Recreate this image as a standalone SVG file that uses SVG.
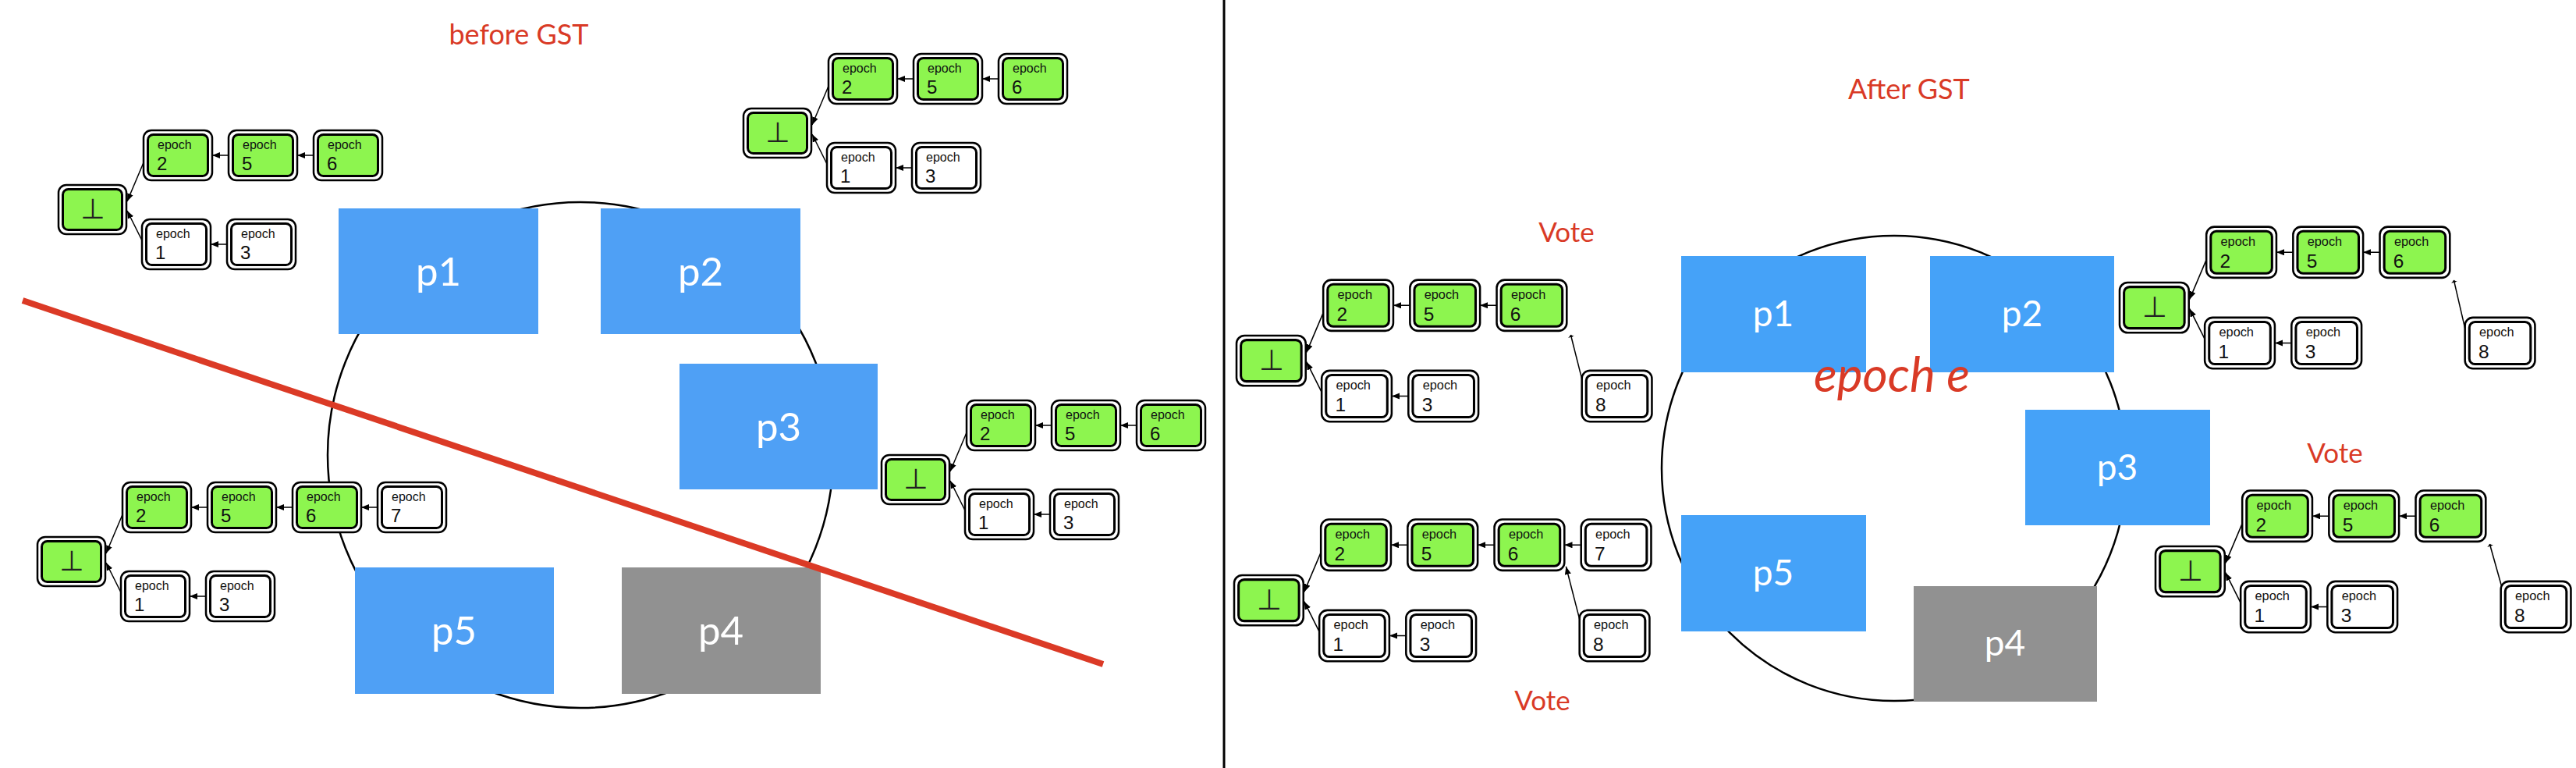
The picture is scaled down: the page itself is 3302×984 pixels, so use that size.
<svg xmlns="http://www.w3.org/2000/svg" width="3302" height="984" viewBox="0 0 3302 984">
<style>
.bg{fill:#fff}
.ring{fill:none;stroke:#000;stroke-width:2.5}
.pb{fill:#4fa0f5}
.pbr{fill:#45a2f8}
.pg{fill:#919191}
.pl{font-family:Lato,"Open Sans",sans-serif;fill:#fff;text-anchor:middle}
.red{font-family:Lato,"Open Sans",sans-serif;fill:#d93a26;text-anchor:middle}
.fo{fill:#fff;stroke:#000;stroke-width:2.5}
.fig{fill:#8df54f;stroke:#000;stroke-width:3}
.fiw{fill:#fff;stroke:#000;stroke-width:3}
.t1{font-family:"Liberation Sans",Arial,sans-serif;font-size:16px;fill:#111}
.t2{font-family:"Liberation Sans",Arial,sans-serif;font-size:24px;fill:#111}
.bot{font-family:"DejaVu Sans",sans-serif;font-size:36px;fill:#222;text-anchor:middle}
.cn{fill:none;stroke:#000;stroke-width:1.5}
.ah{marker-end:url(#arr)}
.at{marker-end:url(#tee)}
</style>
<defs>
<marker id="arr" markerUnits="userSpaceOnUse" markerWidth="10" markerHeight="8" refX="10" refY="4" orient="auto"><path d="M0,0 L10,4 L0,8 z" fill="#000"/></marker>
<marker id="tee" markerUnits="userSpaceOnUse" markerWidth="3" markerHeight="8" refX="3" refY="4" orient="auto"><path d="M0,0 L3,4 L0,8 z" fill="#000"/></marker>
<g id="fg"><rect class="fo" x="0" y="0" width="88" height="64" rx="10"/><rect class="fig" x="5.5" y="5.5" width="77" height="53" rx="7"/></g>
<g id="fw"><rect class="fo" x="0" y="0" width="88" height="64" rx="10"/><rect class="fiw" x="5.5" y="5.5" width="77" height="53" rx="7"/></g>
<g id="fb"><rect class="fo" x="0" y="0" width="87" height="63" rx="10"/><rect class="fig" x="5.5" y="5.5" width="76" height="52" rx="7"/></g>
</defs>
<rect class="bg" x="0" y="0" width="3302" height="984"/>

<!-- divider -->
<line x1="1569" y1="0" x2="1569" y2="984" stroke="#000" stroke-width="3"/>

<!-- titles -->
<text class="red" x="665" y="57" font-size="36">before GST</text>
<text class="red" x="2447" y="127" font-size="36">After GST</text>
<text class="red" x="2008" y="310" font-size="35">Vote</text>
<text class="red" x="2993" y="593" font-size="35">Vote</text>
<text class="red" x="1977" y="910" font-size="35">Vote</text>

<!-- circles -->
<circle class="ring" cx="744" cy="583" r="324"/>
<circle class="ring" cx="2428" cy="600" r="298"/>

<!-- process boxes left -->
<g id="L-p1"><rect class="pb" x="434" y="267" width="256" height="161"/><text class="pl" x="562" y="366" font-size="51">p1</text></g>
<g id="L-p2"><rect class="pb" x="770" y="267" width="256" height="161"/><text class="pl" x="898" y="366" font-size="51">p2</text></g>
<g id="L-p3"><rect class="pb" x="871" y="466" width="254" height="161"/><text class="pl" x="998" y="565" font-size="51">p3</text></g>
<g id="L-p5"><rect class="pb" x="455" y="727" width="255" height="162"/><text class="pl" x="582" y="826" font-size="51">p5</text></g>
<g id="L-p4"><rect class="pg" x="797" y="727" width="255" height="162"/><text class="pl" x="924" y="826" font-size="51">p4</text></g>

<!-- process boxes right -->
<g id="R-p1"><rect class="pbr" x="2155" y="328" width="237" height="149"/><text class="pl" x="2273" y="418" font-size="46">p1</text></g>
<g id="R-p2"><rect class="pbr" x="2474" y="328" width="236" height="149"/><text class="pl" x="2592" y="418" font-size="46">p2</text></g>
<g id="R-p3"><rect class="pbr" x="2596" y="525" width="237" height="148"/><text class="pl" x="2714" y="615" font-size="46">p3</text></g>
<g id="R-p5"><rect class="pbr" x="2155" y="660" width="237" height="149"/><text class="pl" x="2273" y="750" font-size="46">p5</text></g>
<g id="R-p4"><rect class="pg" x="2453" y="751" width="235" height="148"/><text class="pl" x="2570" y="840" font-size="46">p4</text></g>

<text id="epoch-e" class="red" x="2425" y="502" font-size="62" font-style="italic">epoch e</text>

<!-- connectors -->
<g id="connectors">
 <g transform="translate(75,237)">
  <path class="cn ah" d="M218,-38 L197,-38"/><path class="cn ah" d="M327,-38 L306,-38"/>
  <path class="cn ah" d="M216,76 L195,76"/><path class="cn ah" d="M110,-31 L88,21"/><path class="cn ah" d="M108,73 L88,33"/>
 </g>
 <g transform="translate(953,139)">
  <path class="cn ah" d="M218,-38 L197,-38"/><path class="cn ah" d="M327,-38 L306,-38"/>
  <path class="cn ah" d="M216,76 L195,76"/><path class="cn ah" d="M110,-31 L88,21"/><path class="cn ah" d="M108,73 L88,33"/>
 </g>
 <g transform="translate(1130,583)">
  <path class="cn ah" d="M218,-38 L197,-38"/><path class="cn ah" d="M327,-38 L306,-38"/>
  <path class="cn ah" d="M216,76 L195,76"/><path class="cn ah" d="M110,-31 L88,21"/><path class="cn ah" d="M108,73 L88,33"/>
 </g>
 <g transform="translate(48,688)">
  <path class="cn ah" d="M218,-38 L197,-38"/><path class="cn ah" d="M327,-38 L306,-38"/><path class="cn ah" d="M436,-38 L415,-38"/>
  <path class="cn ah" d="M216,76 L195,76"/><path class="cn ah" d="M110,-31 L88,21"/><path class="cn ah" d="M108,73 L88,33"/>
 </g>
 <g transform="translate(2717,362) scale(1.02)">
  <path class="cn ah" d="M218,-38 L197,-38"/><path class="cn ah" d="M327,-38 L306,-38"/>
  <path class="cn ah" d="M216,76 L195,76"/><path class="cn ah" d="M110,-31 L88,21"/><path class="cn ah" d="M108,73 L88,33"/>
  <path class="cn at" d="M436,66 L420,-3"/>
 </g>
 <g transform="translate(2763,700) scale(1.02)">
  <path class="cn ah" d="M218,-38 L197,-38"/><path class="cn ah" d="M327,-38 L306,-38"/>
  <path class="cn ah" d="M216,76 L195,76"/><path class="cn ah" d="M110,-31 L88,21"/><path class="cn ah" d="M108,73 L88,33"/>
  <path class="cn at" d="M436,54 L420,-3"/>
 </g>
 <g transform="translate(1585,430) scale(1.02)">
  <path class="cn ah" d="M218,-38 L197,-38"/><path class="cn ah" d="M327,-38 L306,-38"/>
  <path class="cn ah" d="M216,76 L195,76"/><path class="cn ah" d="M110,-31 L88,21"/><path class="cn ah" d="M108,73 L88,33"/>
  <path class="cn at" d="M437,66 L420,-1"/>
 </g>
 <g transform="translate(1582,737) scale(1.02)">
  <path class="cn ah" d="M218,-38 L197,-38"/><path class="cn ah" d="M327,-38 L306,-38"/><path class="cn ah" d="M436,-38 L415,-38"/>
  <path class="cn ah" d="M216,76 L195,76"/><path class="cn ah" d="M110,-31 L88,21"/><path class="cn ah" d="M108,73 L88,33"/>
  <path class="cn ah" d="M435,59 L417,-11"/>
 </g>
</g>

<!-- chain A -->
<g transform="translate(75,237)">
 <g id="A-bot"><use href="#fb"/><text class="bot" x="44" y="43">⊥</text></g>
 <g id="A-e2" transform="translate(109,-70)"><use href="#fg"/><text class="t1" x="18" y="24">epoch</text><text class="t2" x="17" y="51">2</text></g>
 <g id="A-e5" transform="translate(218,-70)"><use href="#fg"/><text class="t1" x="18" y="24">epoch</text><text class="t2" x="17" y="51">5</text></g>
 <g id="A-e6" transform="translate(327,-70)"><use href="#fg"/><text class="t1" x="18" y="24">epoch</text><text class="t2" x="17" y="51">6</text></g>
 <g id="A-e1" transform="translate(107,44)"><use href="#fw"/><text class="t1" x="18" y="24">epoch</text><text class="t2" x="17" y="51">1</text></g>
 <g id="A-e3" transform="translate(216,44)"><use href="#fw"/><text class="t1" x="18" y="24">epoch</text><text class="t2" x="17" y="51">3</text></g>
</g>
<!-- chain B -->
<g transform="translate(953,139)">
 <g id="B-bot"><use href="#fb"/><text class="bot" x="44" y="43">⊥</text></g>
 <g id="B-e2" transform="translate(109,-70)"><use href="#fg"/><text class="t1" x="18" y="24">epoch</text><text class="t2" x="17" y="51">2</text></g>
 <g id="B-e5" transform="translate(218,-70)"><use href="#fg"/><text class="t1" x="18" y="24">epoch</text><text class="t2" x="17" y="51">5</text></g>
 <g id="B-e6" transform="translate(327,-70)"><use href="#fg"/><text class="t1" x="18" y="24">epoch</text><text class="t2" x="17" y="51">6</text></g>
 <g id="B-e1" transform="translate(107,44)"><use href="#fw"/><text class="t1" x="18" y="24">epoch</text><text class="t2" x="17" y="51">1</text></g>
 <g id="B-e3" transform="translate(216,44)"><use href="#fw"/><text class="t1" x="18" y="24">epoch</text><text class="t2" x="17" y="51">3</text></g>
</g>
<!-- chain C -->
<g transform="translate(1130,583)">
 <g id="C-bot"><use href="#fb"/><text class="bot" x="44" y="43">⊥</text></g>
 <g id="C-e2" transform="translate(109,-70)"><use href="#fg"/><text class="t1" x="18" y="24">epoch</text><text class="t2" x="17" y="51">2</text></g>
 <g id="C-e5" transform="translate(218,-70)"><use href="#fg"/><text class="t1" x="18" y="24">epoch</text><text class="t2" x="17" y="51">5</text></g>
 <g id="C-e6" transform="translate(327,-70)"><use href="#fg"/><text class="t1" x="18" y="24">epoch</text><text class="t2" x="17" y="51">6</text></g>
 <g id="C-e1" transform="translate(107,44)"><use href="#fw"/><text class="t1" x="18" y="24">epoch</text><text class="t2" x="17" y="51">1</text></g>
 <g id="C-e3" transform="translate(216,44)"><use href="#fw"/><text class="t1" x="18" y="24">epoch</text><text class="t2" x="17" y="51">3</text></g>
</g>
<!-- chain D -->
<g transform="translate(48,688)">
 <g id="D-bot"><use href="#fb"/><text class="bot" x="44" y="43">⊥</text></g>
 <g id="D-e2" transform="translate(109,-70)"><use href="#fg"/><text class="t1" x="18" y="24">epoch</text><text class="t2" x="17" y="51">2</text></g>
 <g id="D-e5" transform="translate(218,-70)"><use href="#fg"/><text class="t1" x="18" y="24">epoch</text><text class="t2" x="17" y="51">5</text></g>
 <g id="D-e6" transform="translate(327,-70)"><use href="#fg"/><text class="t1" x="18" y="24">epoch</text><text class="t2" x="17" y="51">6</text></g>
 <g id="D-e7" transform="translate(436,-70)"><use href="#fw"/><text class="t1" x="18" y="24">epoch</text><text class="t2" x="17" y="51">7</text></g>
 <g id="D-e1" transform="translate(107,44)"><use href="#fw"/><text class="t1" x="18" y="24">epoch</text><text class="t2" x="17" y="51">1</text></g>
 <g id="D-e3" transform="translate(216,44)"><use href="#fw"/><text class="t1" x="18" y="24">epoch</text><text class="t2" x="17" y="51">3</text></g>
</g>
<!-- chain E -->
<g transform="translate(2717,362) scale(1.02)">
 <g id="E-bot"><use href="#fb"/><text class="bot" x="44" y="43">⊥</text></g>
 <g id="E-e2" transform="translate(109,-70)"><use href="#fg"/><text class="t1" x="18" y="24">epoch</text><text class="t2" x="17" y="51">2</text></g>
 <g id="E-e5" transform="translate(218,-70)"><use href="#fg"/><text class="t1" x="18" y="24">epoch</text><text class="t2" x="17" y="51">5</text></g>
 <g id="E-e6" transform="translate(327,-70)"><use href="#fg"/><text class="t1" x="18" y="24">epoch</text><text class="t2" x="17" y="51">6</text></g>
 <g id="E-e1" transform="translate(107,44)"><use href="#fw"/><text class="t1" x="18" y="24">epoch</text><text class="t2" x="17" y="51">1</text></g>
 <g id="E-e3" transform="translate(216,44)"><use href="#fw"/><text class="t1" x="18" y="24">epoch</text><text class="t2" x="17" y="51">3</text></g>
 <g id="E-e8" transform="translate(434,44)"><use href="#fw"/><text class="t1" x="18" y="24">epoch</text><text class="t2" x="17" y="51">8</text></g>
</g>
<!-- chain F -->
<g transform="translate(2763,700) scale(1.02)">
 <g id="F-bot"><use href="#fb"/><text class="bot" x="44" y="43">⊥</text></g>
 <g id="F-e2" transform="translate(109,-70)"><use href="#fg"/><text class="t1" x="18" y="24">epoch</text><text class="t2" x="17" y="51">2</text></g>
 <g id="F-e5" transform="translate(218,-70)"><use href="#fg"/><text class="t1" x="18" y="24">epoch</text><text class="t2" x="17" y="51">5</text></g>
 <g id="F-e6" transform="translate(327,-70)"><use href="#fg"/><text class="t1" x="18" y="24">epoch</text><text class="t2" x="17" y="51">6</text></g>
 <g id="F-e1" transform="translate(107,44)"><use href="#fw"/><text class="t1" x="18" y="24">epoch</text><text class="t2" x="17" y="51">1</text></g>
 <g id="F-e3" transform="translate(216,44)"><use href="#fw"/><text class="t1" x="18" y="24">epoch</text><text class="t2" x="17" y="51">3</text></g>
 <g id="F-e8" transform="translate(434,44)"><use href="#fw"/><text class="t1" x="18" y="24">epoch</text><text class="t2" x="17" y="51">8</text></g>
</g>
<!-- chain G -->
<g transform="translate(1585,430) scale(1.02)">
 <g id="G-bot"><use href="#fb"/><text class="bot" x="44" y="43">⊥</text></g>
 <g id="G-e2" transform="translate(109,-70)"><use href="#fg"/><text class="t1" x="18" y="24">epoch</text><text class="t2" x="17" y="51">2</text></g>
 <g id="G-e5" transform="translate(218,-70)"><use href="#fg"/><text class="t1" x="18" y="24">epoch</text><text class="t2" x="17" y="51">5</text></g>
 <g id="G-e6" transform="translate(327,-70)"><use href="#fg"/><text class="t1" x="18" y="24">epoch</text><text class="t2" x="17" y="51">6</text></g>
 <g id="G-e1" transform="translate(107,44)"><use href="#fw"/><text class="t1" x="18" y="24">epoch</text><text class="t2" x="17" y="51">1</text></g>
 <g id="G-e3" transform="translate(216,44)"><use href="#fw"/><text class="t1" x="18" y="24">epoch</text><text class="t2" x="17" y="51">3</text></g>
 <g id="G-e8" transform="translate(434,44)"><use href="#fw"/><text class="t1" x="18" y="24">epoch</text><text class="t2" x="17" y="51">8</text></g>
</g>
<!-- chain H -->
<g transform="translate(1582,737) scale(1.02)">
 <g id="H-bot"><use href="#fb"/><text class="bot" x="44" y="43">⊥</text></g>
 <g id="H-e2" transform="translate(109,-70)"><use href="#fg"/><text class="t1" x="18" y="24">epoch</text><text class="t2" x="17" y="51">2</text></g>
 <g id="H-e5" transform="translate(218,-70)"><use href="#fg"/><text class="t1" x="18" y="24">epoch</text><text class="t2" x="17" y="51">5</text></g>
 <g id="H-e6" transform="translate(327,-70)"><use href="#fg"/><text class="t1" x="18" y="24">epoch</text><text class="t2" x="17" y="51">6</text></g>
 <g id="H-e7" transform="translate(436,-70)"><use href="#fw"/><text class="t1" x="18" y="24">epoch</text><text class="t2" x="17" y="51">7</text></g>
 <g id="H-e1" transform="translate(107,44)"><use href="#fw"/><text class="t1" x="18" y="24">epoch</text><text class="t2" x="17" y="51">1</text></g>
 <g id="H-e3" transform="translate(216,44)"><use href="#fw"/><text class="t1" x="18" y="24">epoch</text><text class="t2" x="17" y="51">3</text></g>
 <g id="H-e8" transform="translate(434,44)"><use href="#fw"/><text class="t1" x="18" y="24">epoch</text><text class="t2" x="17" y="51">8</text></g>
</g>

<!-- partition line -->
<line id="partition" x1="29" y1="385" x2="1414" y2="851" stroke="#db3a26" stroke-width="8"/>
</svg>
